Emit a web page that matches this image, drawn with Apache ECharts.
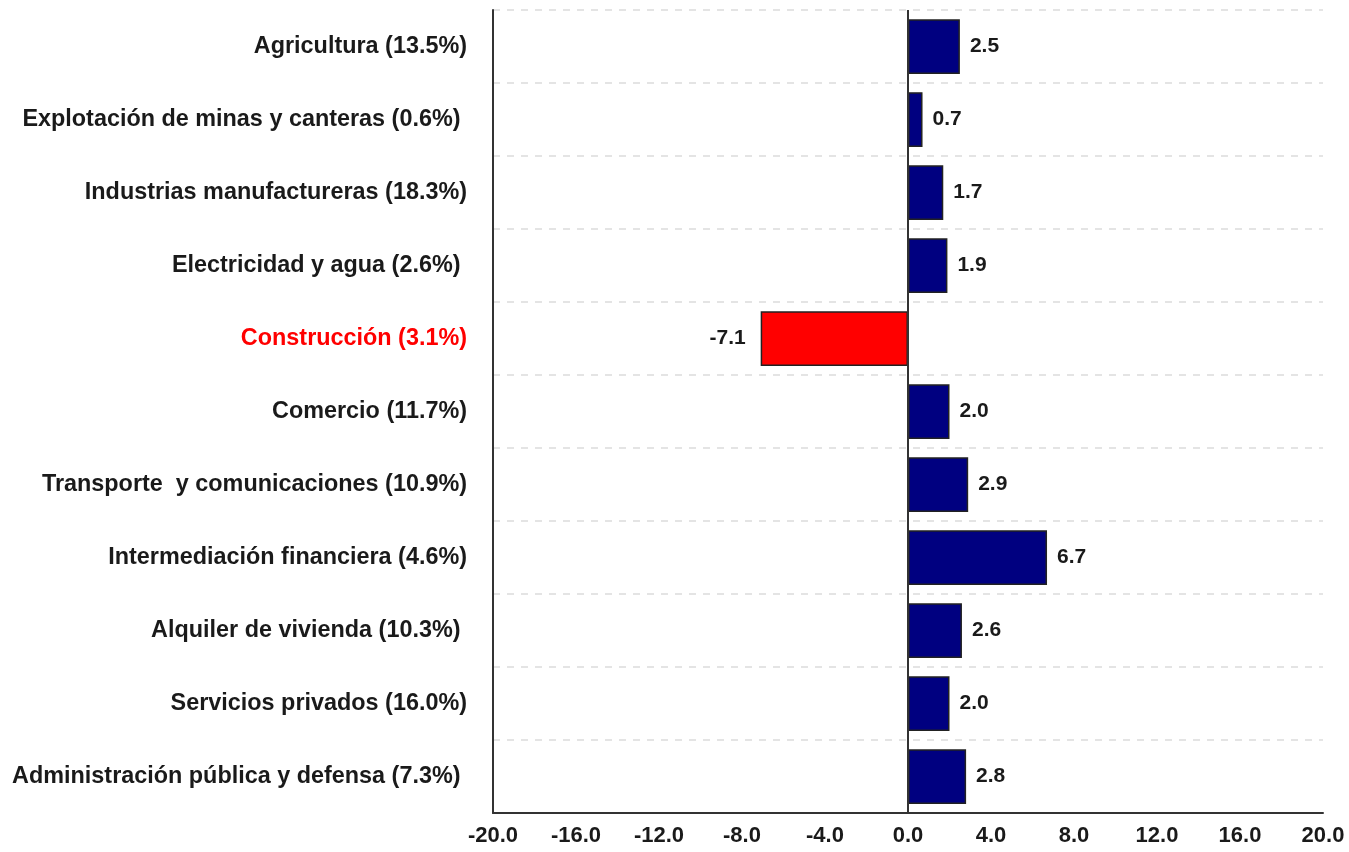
<!DOCTYPE html>
<html>
<head>
<meta charset="utf-8">
<style>
  html, body { margin: 0; padding: 0; background: #ffffff; }
  #chart { width: 1349px; height: 852px; }
</style>
<script src="https://cdn.jsdelivr.net/npm/echarts@6/dist/echarts.min.js"></script>
</head>
<body>
<div id="chart"></div>
<script>
// Sectores económicos y su participación
const categories = [
  'Agricultura (13.5%)',
  'Explotación de minas y canteras (0.6%) ',
  'Industrias manufactureras (18.3%)',
  'Electricidad y agua (2.6%) ',
  'Construcción (3.1%)',
  'Comercio (11.7%)',
  'Transporte  y comunicaciones (10.9%)',
  'Intermediación financiera (4.6%)',
  'Alquiler de vivienda (10.3%) ',
  'Servicios privados (16.0%)',
  'Administración pública y defensa (7.3%) '
];
// Variación porcentual por sector
const values = [2.5, 0.7, 1.7, 1.9, -7.1, 2.0, 2.9, 6.7, 2.6, 2.0, 2.8];
const highlighted = 'Construcción (3.1%)';

const FONT = 'Liberation Sans, Arial, sans-serif';
const chart = echarts.init(document.getElementById('chart'));

chart.setOption({
  animation: false,
  grid: { left: 493, right: 26, top: 10, bottom: 39, containLabel: false },
  xAxis: {
    type: 'value',
    min: -20, max: 20, interval: 4,
    axisLine: { show: true, onZero: false, lineStyle: { color: '#333', width: 2 } },
    axisTick: { show: false },
    splitLine: { show: false },
    axisLabel: {
      margin: 12,
      color: '#1a1a1a', fontFamily: FONT, fontWeight: 'bold', fontSize: 22,
      formatter: v => v.toFixed(1)
    }
  },
  yAxis: {
    type: 'category',
    data: categories,
    inverse: true,
    axisLine: { show: true, onZero: false, lineStyle: { color: '#333', width: 2 } },
    axisTick: { show: false },
    splitLine: { show: true, lineStyle: { color: '#dcdcdc', type: [7, 7], width: 1.5 } },
    axisLabel: {
      margin: 26,
      fontFamily: FONT, fontWeight: 'bold', fontSize: 23.4,
      color: (v) => v === highlighted ? '#ff0000' : '#1a1a1a'
    }
  },
  series: [{
    type: 'bar',
    data: values.map((v, i) => ({
      value: v,
      itemStyle: { color: categories[i] === highlighted ? '#ff0000' : '#000080' },
      label: { position: v < 0 ? 'left' : 'right', distance: v < 0 ? 15 : 10 }
    })),
    barCategoryGap: '25%',
    itemStyle: { borderColor: '#222', borderWidth: 1.5 },
    label: {
      show: true,
      color: '#1a1a1a', fontFamily: FONT, fontWeight: 'bold', fontSize: 21,
      formatter: p => p.value.toFixed(1)
    },
    markLine: {
      silent: true,
      symbol: 'none',
      label: { show: false },
      lineStyle: { color: '#333', type: 'solid', width: 2 },
      data: [{ xAxis: 0 }]
    }
  }]
});
</script>
</body>
</html>
